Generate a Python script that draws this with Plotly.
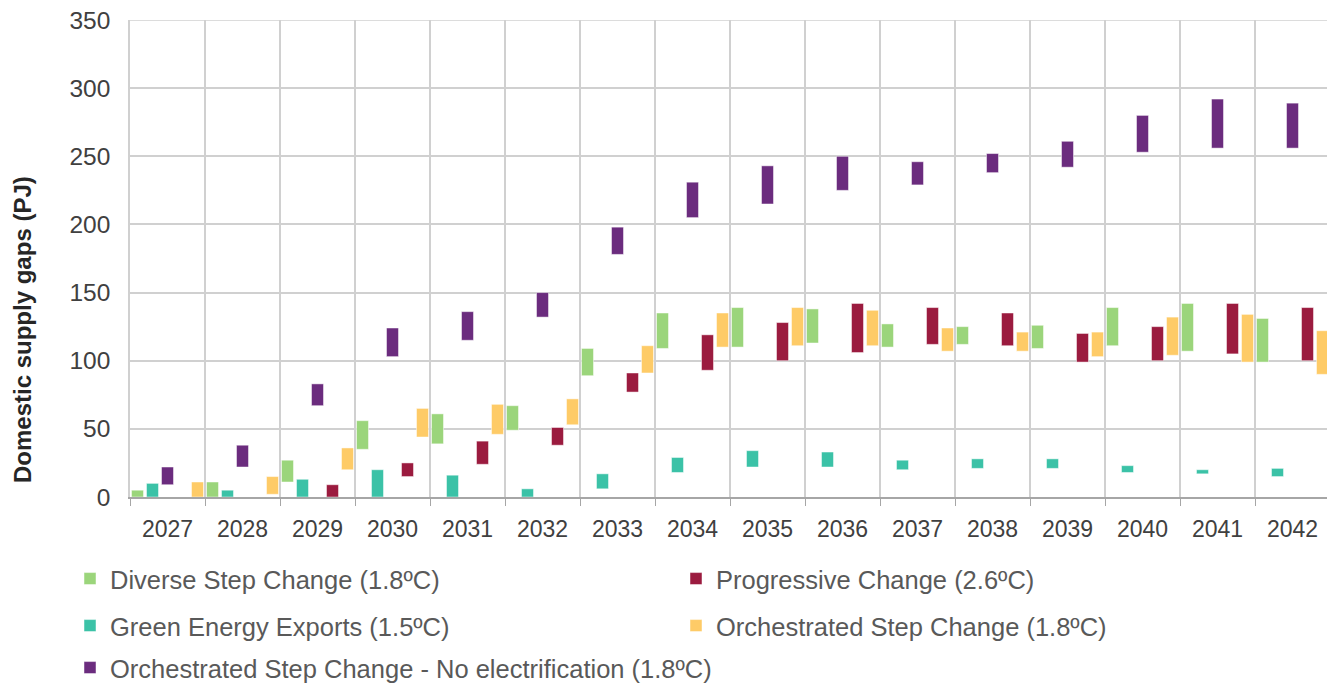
import plotly.graph_objects as go

years = [str(y) for y in range(2027, 2043)]

# low / high of each range bar (PJ)
diverse_low  = [0, 0, 11, 35, 39, 49, 89, 109, 110, 113, 110, 112, 109, 111, 107, 99]
diverse_high = [5, 11, 27, 56, 61, 67, 109, 135, 139, 138, 127, 125, 126, 139, 142, 131]

green_low  = [0, 0, 0, 0, 0, 0, 6, 18, 22, 22, 20, 21, 21, 18, 17, 15]
green_high = [10, 5, 13, 20, 16, 6, 17, 29, 34, 33, 27, 28, 28, 23, 20, 21]

noelec_low  = [9, 22, 67, 103, 115, 132, 178, 205, 215, 225, 229, 238, 242, 253, 256, 256]
noelec_high = [22, 38, 83, 124, 136, 150, 198, 231, 243, 250, 246, 252, 261, 280, 292, 289]

prog_low  = [None, None, 0, 15, 24, 38, 77, 93, 100, 106, 112, 111, 99, 100, 105, 100]
prog_high = [None, None, 9, 25, 41, 51, 91, 119, 128, 142, 139, 135, 120, 125, 142, 139]

orch_low  = [0, 2, 20, 44, 46, 53, 91, 110, 111, 111, 107, 107, 103, 104, 99, 90]
orch_high = [11, 15, 36, 65, 68, 72, 111, 135, 139, 137, 124, 121, 121, 132, 134, 122]

y_title = "Domestic supply gaps (PJ)"

# (name, low, high, colour, legend id) in the bar order within each year
series = [
    ("Diverse Step Change (1.8ºC)", diverse_low, diverse_high, "#9BD57B", "legend"),
    ("Green Energy Exports (1.5ºC)", green_low, green_high, "#3BC2A7", "legend3"),
    ("Orchestrated Step Change - No electrification (1.8ºC)", noelec_low, noelec_high, "#6B2C7E", "legend5"),
    ("Progressive Change (2.6ºC)", prog_low, prog_high, "#9B1B3F", "legend2"),
    ("Orchestrated Step Change (1.8ºC)", orch_low, orch_high, "#FECB67", "legend4"),
]

FIG_W, FIG_H = 1327, 676   # page body adds an 8px margin

fig = go.Figure()
for name, lo, hi, color, lg in series:
    h = [None if (a is None or b is None) else b - a for a, b in zip(lo, hi)]
    fig.add_trace(go.Bar(
        x=years, y=h, base=lo, name=name,
        marker=dict(color=color, line=dict(color="rgba(255,255,255,0.6)", width=0.8)),
        legend=lg,
    ))

font_fam = "Liberation Sans, Arial, sans-serif"


def leg(xpx, ypx):
    return dict(orientation="v", xanchor="left", yanchor="middle",
                xref="container", yref="container",
                x=xpx / FIG_W, y=1 - ypx / FIG_H,
                itemwidth=30, bgcolor="rgba(0,0,0,0)",
                font=dict(family=font_fam, size=25.5, color="#595959"))


fig.update_layout(
    width=FIG_W, height=FIG_H,
    margin=dict(l=122, r=5, t=12, b=187, autoexpand=False),
    paper_bgcolor="white", plot_bgcolor="white",
    barmode="group", bargap=0, bargroupgap=0.2,
    font=dict(family=font_fam, size=23, color="#404040"),
    showlegend=True,
    legend=leg(62, 571),
    legend2=leg(668, 571),
    legend3=leg(62, 618),
    legend4=leg(668, 618),
    legend5=leg(62, 660),
    xaxis=dict(
        type="category", tickson="boundaries", ticks="outside", ticklen=7,
        tickcolor="#A6A6A6", showgrid=True, gridcolor="#D0D0D0", gridwidth=1.5,
        showline=True, linecolor="#A6A6A6", linewidth=1.5, automargin=False,
        ticklabelstandoff=11,
        tickfont=dict(size=23, color="#404040"),
    ),
    yaxis=dict(
        range=[0, 350], tickmode="array", tickvals=[0, 50, 100, 150, 200, 250, 300, 350],
        showgrid=True, gridcolor="#D0D0D0", gridwidth=1.5,
        zeroline=False, showline=True, linecolor="#D0D0D0", linewidth=1.5, mirror=True,
        ticks="", ticklabelstandoff=13, automargin=False, ticklabeloverflow="allow",
        tickfont=dict(size=24.5, color="#404040"),
    ),
    shapes=[dict(type="line", xref="paper", yref="y", x0=0, x1=1, y0=350, y1=350,
                 line=dict(color="#D0D0D0", width=1.5), layer="below")],
    annotations=[dict(
        text="<b>" + y_title + "</b>", textangle=-90,
        xref="paper", yref="paper", x=(22 - 130) / 1200, y=(497 - 330) / 477,
        xanchor="center", yanchor="middle", showarrow=False,
        font=dict(family=font_fam, size=24, color="#262626"),
    )],
)

fig.write_html("out.html")
